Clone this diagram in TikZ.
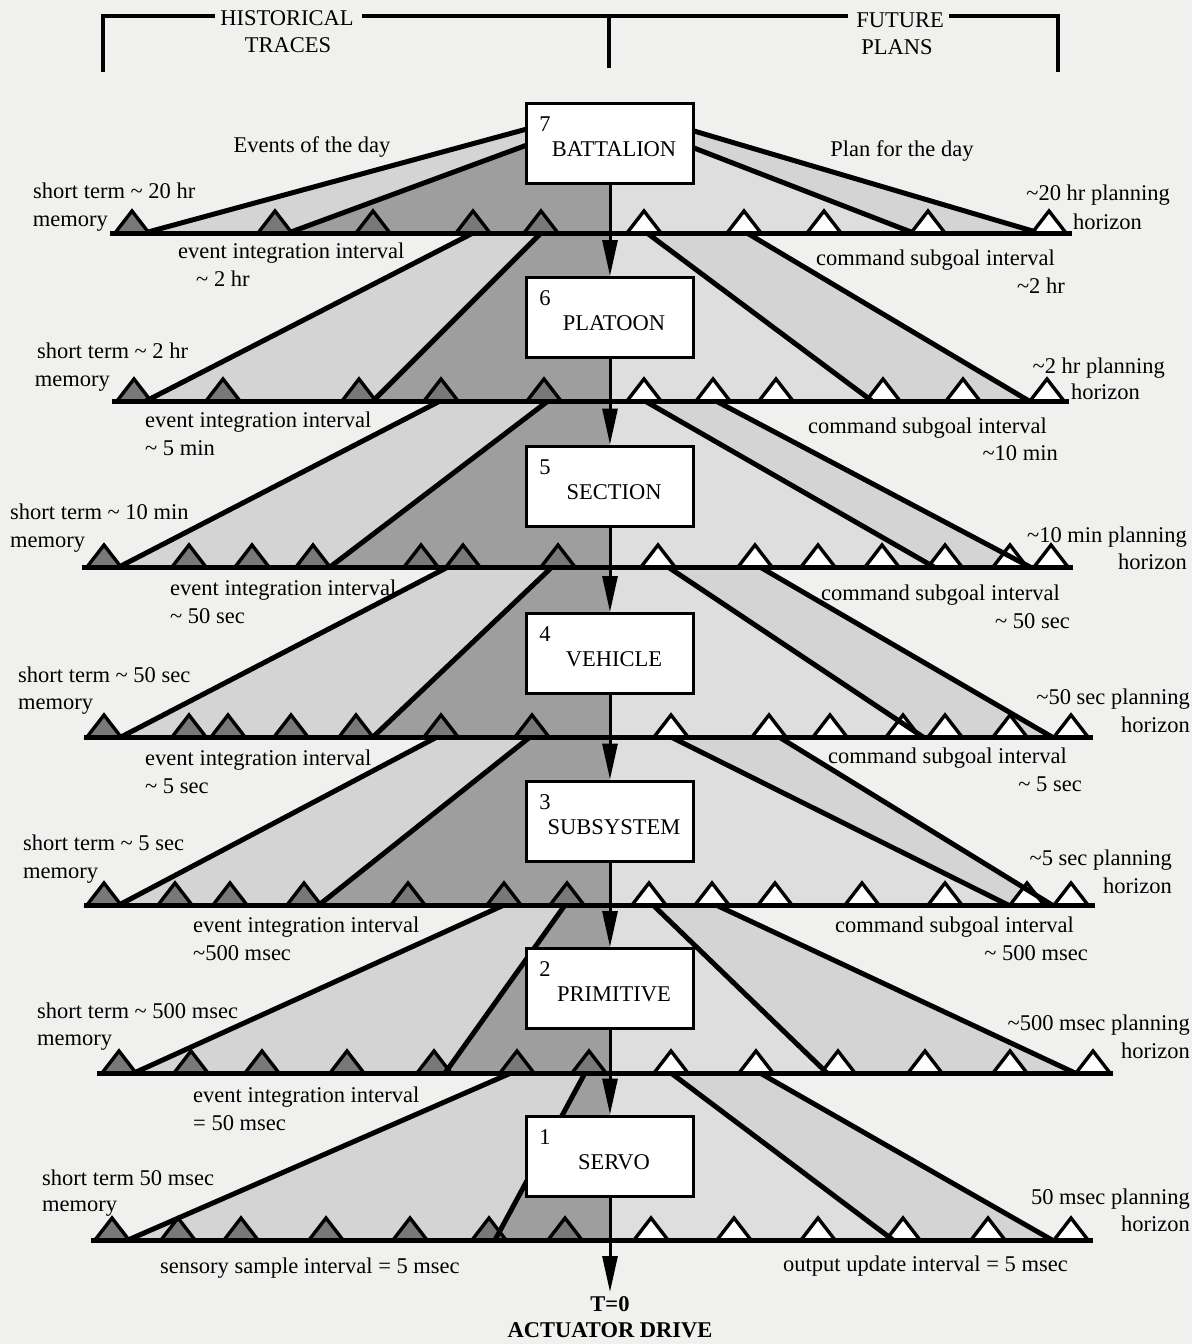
\documentclass[tikz,border=0pt]{standalone}
\usepackage{fontspec}
\setmainfont{Liberation Serif}
\usetikzlibrary{arrows.meta,calc}
\definecolor{bgc}{RGB}{240,240,238}
\definecolor{bandc}{RGB}{212,212,212}
\definecolor{rinc}{RGB}{222,222,222}
\definecolor{darkc}{RGB}{158,158,158}
\definecolor{tric}{RGB}{120,120,120}
\newcommand{\fandef}[9]{%
  \coordinate (#1lot) at (#2); \coordinate (#1lob) at (#3);
  \coordinate (#1lit) at (#4); \coordinate (#1lib) at (#5);
  \coordinate (#1rit) at (#6); \coordinate (#1rib) at (#7);
  \coordinate (#1rot) at (#8); \coordinate (#1rob) at (#9);}
\tikzset{
  lbl/.style={inner sep=0pt, font=\fontsize{22.5}{26}\selectfont, text height=16pt, text depth=5pt},
  fanline/.style={line width=5pt, line cap=butt},
  tline/.style={line width=5pt},
  dtri/.style={draw=black, fill=tric, line width=3.4pt, line join=miter},
  wtri/.style={draw=black, fill=white, line width=3.4pt, line join=miter},
  lvlbox/.style={draw=black, fill=white, line width=3pt, minimum width=167pt, minimum height=80pt, inner sep=0pt},
  arr/.style={line width=3pt, -{Triangle[length=36pt,width=15pt]}},
  brk/.style={line width=3.5pt},
}
\begin{document}
\begin{tikzpicture}[x=1pt,y=-1pt]
\useasboundingbox (0,0) rectangle (1192,1344);
\fill[bgc] (0,0) rectangle (1192,1344);
\coordinate (cx) at (610,0);

% level data: LO top, LO bottom, LI top, LI bottom, RI top, RI bottom, RO top, RO bottom
\fandef{7}{527,129}{148,232}{527,145}{291,232}{694,148}{911,232}{694,131}{1036,232}
\fandef{6}{473,233}{146,401}{541,233}{373,401}{647,233}{872,401}{747,233}{1029,401}
\fandef{5}{440,401}{119,567}{548,401}{330,567}{645,401}{934,567}{716,401}{1030,567}
\fandef{4}{448,567}{121,737}{552,567}{373,737}{668,567}{923,737}{760,567}{1052,737}
\fandef{3}{437,737}{119,905}{530,737}{319,905}{671,737}{1008,905}{779,737}{1052,905}
\fandef{2}{504,905}{134,1073}{565,905}{445,1073}{653,905}{827,1073}{716,905}{1075,1073}
\fandef{1}{511,1073}{128,1240}{585,1073}{495,1240}{671,1073}{893,1240}{760,1073}{1052,1240}

% fills
\foreach \lv in {7,6,5,4,3,2,1}{
  \fill[bandc] (\lv lot) -- (\lv lob) -- (\lv rob) -- (\lv rot) -- cycle;
  \fill[darkc] (\lv lit) -- (\lv lib) -- (\lv lib -| cx) -- (\lv lit -| cx) -- cycle;
  \fill[rinc] (\lv rit) -- (\lv rib) -- (\lv rib -| cx) -- (\lv rit -| cx) -- cycle;
}

% triangles
\foreach \x in {132,275,373,473,541} \draw[dtri] (\x-17,233) -- (\x,211) -- (\x+17,233) -- cycle;
\foreach \x in {644,744,824,928,1049} \draw[wtri] (\x-17,233) -- (\x,211) -- (\x+17,233) -- cycle;
\foreach \x in {134,223,359,441,544} \draw[dtri] (\x-17,401) -- (\x,379) -- (\x+17,401) -- cycle;
\foreach \x in {644,713,776,883,963,1047} \draw[wtri] (\x-17,401) -- (\x,379) -- (\x+17,401) -- cycle;
\foreach \x in {104,189,252,313,421,463,558} \draw[dtri] (\x-17,567) -- (\x,545) -- (\x+17,567) -- cycle;
\foreach \x in {658,755,818,882,945,1010,1051} \draw[wtri] (\x-17,567) -- (\x,545) -- (\x+17,567) -- cycle;
\foreach \x in {104,189,228,291,356,441,532} \draw[dtri] (\x-17,737) -- (\x,715) -- (\x+17,737) -- cycle;
\foreach \x in {671,769,830,903,945,1010,1071} \draw[wtri] (\x-17,737) -- (\x,715) -- (\x+17,737) -- cycle;
\foreach \x in {104,175,230,304,408,504,567} \draw[dtri] (\x-17,905) -- (\x,883) -- (\x+17,905) -- cycle;
\foreach \x in {649,712,775,862,945,1027,1071} \draw[wtri] (\x-17,905) -- (\x,883) -- (\x+17,905) -- cycle;
\foreach \x in {119,191,262,347,434,517,589} \draw[dtri] (\x-17,1073) -- (\x,1051) -- (\x+17,1073) -- cycle;
\foreach \x in {671,756,838,925,1010,1093} \draw[wtri] (\x-17,1073) -- (\x,1051) -- (\x+17,1073) -- cycle;
\foreach \x in {112,178,241,326,410,489,565} \draw[dtri] (\x-17,1240) -- (\x,1218) -- (\x+17,1240) -- cycle;
\foreach \x in {651,734,818,903,988,1071} \draw[wtri] (\x-17,1240) -- (\x,1218) -- (\x+17,1240) -- cycle;

% fan lines
\foreach \lv in {7,6,5,4,3,2,1}{
  \draw[fanline] (\lv lot) -- (\lv lob);
  \draw[fanline] (\lv lit) -- (\lv lib);
  \draw[fanline] (\lv rit) -- (\lv rib);
  \draw[fanline] (\lv rot) -- (\lv rob);
}

% timelines
\coordinate (t7a) at (110,233);  \coordinate (t7b) at (1072,233);
\coordinate (t6a) at (112,401);  \coordinate (t6b) at (1069,401);
\coordinate (t5a) at (82,567);   \coordinate (t5b) at (1073,567);
\coordinate (t4a) at (84,737);   \coordinate (t4b) at (1093,737);
\coordinate (t3a) at (84,905);   \coordinate (t3b) at (1095,905);
\coordinate (t2a) at (97,1073);  \coordinate (t2b) at (1113,1073);
\coordinate (t1a) at (91,1240);  \coordinate (t1b) at (1093,1240);
\foreach \lv in {7,6,5,4,3,2,1} \draw[tline] (t\lv a) -- (t\lv b);

% boxes
\node[lvlbox] (b7) at (610,143.5) {};
\node[lvlbox] (b6) at (610,317.5) {};
\node[lvlbox] (b5) at (610,486) {};
\node[lvlbox] (b4) at (610,653.5) {};
\node[lvlbox] (b3) at (610,821) {};
\node[lvlbox] (b2) at (610,988.5) {};
\node[lvlbox] (b1) at (610,1156) {};
\foreach \lv/\nm in {7/BATTALION,6/PLATOON,5/SECTION,4/VEHICLE,3/SUBSYSTEM,2/PRIMITIVE,1/SERVO}{
  \node[lbl] (n\lv) at ($(b\lv.north west)+(20,24)$) {\lv};
  \node[lbl] (m\lv) at ($(b\lv.north)+(4,49)$) {\nm};
}

% arrows
\draw[arr] (b7) -- (b6);
\draw[arr] (b6) -- (b5);
\draw[arr] (b5) -- (b4);
\draw[arr] (b4) -- (b3);
\draw[arr] (b3) -- (b2);
\draw[arr] (b2) -- (b1);
\coordinate (tz) at (610,1292);
\draw[arr] (b1) -- (tz);
\node[lbl,font=\fontsize{22.5}{26}\selectfont\bfseries] (t0) at (610,1306) {T=0};
\node[lbl,font=\fontsize{22.5}{26}\selectfont\bfseries] (act) at (610,1332) {ACTUATOR DRIVE};

% top bracket
\node[lbl] (hist) at (287,20) {HISTORICAL};
\node[lbl] (trac) at (288,47) {TRACES};
\node[lbl] (fut) at (900,22) {FUTURE};
\node[lbl] (plan) at (897,49) {PLANS};
\coordinate (bl) at (103,72); \coordinate (bc) at (609,68); \coordinate (br) at (1058,72);
\draw[brk] (bl) -- (103,16) -- ([xshift=-5pt]hist.west |- 0,16);
\draw[brk] ([xshift=8pt]hist.east |- 0,16) -- ([xshift=-8pt]fut.west |- 0,16);
\draw[brk] ([xshift=5pt]fut.east |- 0,16) -- (1058,16) -- (br);
\draw[brk] (bc) -- (609,16);

% labels level 7
\node[lbl] (e7) at (312,147) {Events of the day};
\node[lbl] (p7) at (902,151) {Plan for the day};
\node[lbl,anchor=west] (s7) at (33,193) {short term \textasciitilde{} 20 hr};
\node[lbl,anchor=east] (m7a) at (108,221) {memory};
\node[lbl,anchor=east] (h7a) at (1170,195) {\textasciitilde20 hr planning};
\node[lbl,anchor=east] (h7b) at (1142,224) {horizon};
\node[lbl,anchor=west] (i7a) at (178,253) {event integration interval};
\node[lbl,anchor=west] (i7b) at (196,281) {\textasciitilde{} 2 hr};
\node[lbl,anchor=east] (c7a) at (1055,260) {command subgoal interval};
\node[lbl,anchor=east] (c7b) at (1065,288) {\textasciitilde2 hr};
% level 6
\node[lbl,anchor=west] (s6) at (37,353) {short term \textasciitilde{} 2 hr};
\node[lbl,anchor=east] (m6a) at (110,381) {memory};
\node[lbl,anchor=east] (h6a) at (1165,368) {\textasciitilde2 hr planning};
\node[lbl,anchor=east] (h6b) at (1140,394) {horizon};
\node[lbl,anchor=west] (i6a) at (145,422) {event integration interval};
\node[lbl,anchor=west] (i6b) at (145,450) {\textasciitilde{} 5 min};
\node[lbl,anchor=east] (c6a) at (1047,428) {command subgoal interval};
\node[lbl,anchor=east] (c6b) at (1058,455) {\textasciitilde10 min};
% level 5
\node[lbl,anchor=west] (s5) at (10,514) {short term \textasciitilde{} 10 min};
\node[lbl,anchor=west] (m5a) at (10,542) {memory};
\node[lbl,anchor=east] (h5a) at (1187,537) {\textasciitilde10 min planning};
\node[lbl,anchor=east] (h5b) at (1187,564) {horizon};
\node[lbl,anchor=west] (i5a) at (170,590) {event integration interval};
\node[lbl,anchor=west] (i5b) at (170,618) {\textasciitilde{} 50 sec};
\node[lbl,anchor=east] (c5a) at (1060,595) {command subgoal interval};
\node[lbl,anchor=east] (c5b) at (1070,623) {\textasciitilde{} 50 sec};
% level 4
\node[lbl,anchor=west] (s4) at (18,677) {short term \textasciitilde{} 50 sec};
\node[lbl,anchor=west] (m4a) at (18,704) {memory};
\node[lbl,anchor=east] (h4a) at (1190,699) {\textasciitilde50 sec planning};
\node[lbl,anchor=east] (h4b) at (1190,727) {horizon};
\node[lbl,anchor=west] (i4a) at (145,760) {event integration interval};
\node[lbl,anchor=west] (i4b) at (145,788) {\textasciitilde{} 5 sec};
\node[lbl,anchor=west] (c4a) at (828,758) {command subgoal interval};
\node[lbl,anchor=east] (c4b) at (1082,786) {\textasciitilde{} 5 sec};
% level 3
\node[lbl,anchor=west] (s3) at (23,845) {short term \textasciitilde{} 5 sec};
\node[lbl,anchor=west] (m3a) at (23,873) {memory};
\node[lbl,anchor=east] (h3a) at (1172,860) {\textasciitilde5 sec planning};
\node[lbl,anchor=east] (h3b) at (1172,888) {horizon};
\node[lbl,anchor=west] (i3a) at (193,927) {event integration interval};
\node[lbl,anchor=west] (i3b) at (193,955) {\textasciitilde500 msec};
\node[lbl,anchor=west] (c3a) at (835,927) {command subgoal interval};
\node[lbl,anchor=east] (c3b) at (1088,955) {\textasciitilde{} 500 msec};
% level 2
\node[lbl,anchor=west] (s2) at (37,1013) {short term \textasciitilde{} 500 msec};
\node[lbl,anchor=west] (m2a) at (37,1040) {memory};
\node[lbl,anchor=east] (h2a) at (1190,1025) {\textasciitilde500 msec planning};
\node[lbl,anchor=east] (h2b) at (1190,1053) {horizon};
\node[lbl,anchor=west] (i2a) at (193,1097) {event integration interval};
\node[lbl,anchor=west] (i2b) at (193,1125) {= 50 msec};
% level 1
\node[lbl,anchor=west] (s1) at (42,1180) {short term 50 msec};
\node[lbl,anchor=west] (m1a) at (42,1206) {memory};
\node[lbl,anchor=east] (h1a) at (1190,1199) {50 msec planning};
\node[lbl,anchor=east] (h1b) at (1190,1226) {horizon};
\node[lbl,anchor=west] (o1) at (160,1268) {sensory sample interval = 5 msec};
\node[lbl,anchor=west] (o2) at (783,1266) {output update interval = 5 msec};
\end{tikzpicture}
\end{document}
